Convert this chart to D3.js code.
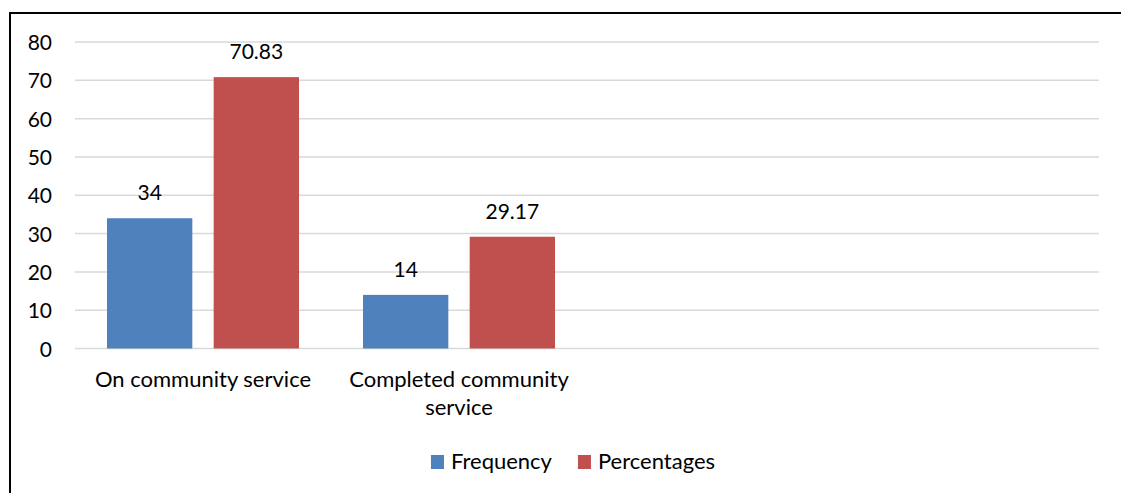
<!DOCTYPE html>
<html>
<head>
<meta charset="utf-8">
<script src="https://cdn.jsdelivr.net/npm/d3@7"></script>
<style>
  html, body { margin: 0; padding: 0; background: #fff; }
  svg { display: block; }
  text { font-family: Lato, "Open Sans", sans-serif; fill: #000; }
</style>
</head>
<body>
<svg id="chart" width="1121" height="493"></svg>
<script>
// Category slots (the last two are left empty on the axis)
const categories = ["On community service", "Completed community service", "", ""];
const seriesNames = ["Frequency", "Percentages"];
const frequency = [34, 14];
const percentages = [70.83, 29.17];
const yTicks = [0, 10, 20, 30, 40, 50, 60, 70, 80];
const colors = ["#4F81BD", "#C0504D"];

const seriesValues = [frequency, percentages];

const svg = d3.select("#chart");

// outer chart border (left and top edges visible)
svg.append("rect")
  .attr("x", 10).attr("y", 13)
  .attr("width", 1300).attr("height", 700)
  .attr("fill", "none").attr("stroke", "#000").attr("stroke-width", 2);

const plot = { left: 75, right: 1099, top: 42, bottom: 348.5 };

const y = d3.scaleLinear().domain([0, 80]).range([plot.bottom, plot.top]);
const x0 = d3.scaleBand().domain(d3.range(categories.length)).range([plot.left, plot.right]);
const x1 = d3.scaleBand().domain(d3.range(seriesNames.length))
  .range([0, x0.bandwidth()]).paddingInner(0.2).paddingOuter(0.3);

// horizontal gridlines
svg.append("g").selectAll("line").data(yTicks).join("line")
  .attr("x1", plot.left).attr("x2", plot.right)
  .attr("y1", d => y(d)).attr("y2", d => y(d))
  .attr("stroke", "#d9d9d9").attr("stroke-width", 1.5);

// y axis labels
const yAxis = d3.axisLeft(y).tickValues(yTicks).tickSize(0).tickPadding(0);
const gy = svg.append("g").attr("transform", "translate(52,0)").call(yAxis);
gy.select(".domain").remove();
gy.selectAll("text")
  .attr("font-family", "Lato, 'Open Sans', sans-serif")
  .attr("font-size", 21).attr("fill", "#000")
  .attr("dy", "0.36em");

// bars
const groups = svg.append("g").selectAll("g")
  .data(frequency.map((_, i) => i)).join("g")
  .attr("transform", i => `translate(${x0(i)},0)`);

groups.selectAll("rect")
  .data(i => seriesValues.map((vals, s) => ({ s, v: vals[i] })))
  .join("rect")
  .attr("x", d => x1(d.s))
  .attr("width", x1.bandwidth())
  .attr("y", d => y(d.v))
  .attr("height", d => y(0) - y(d.v))
  .attr("fill", d => colors[d.s]);

// value labels
groups.selectAll("text")
  .data(i => seriesValues.map((vals, s) => ({ s, v: vals[i] })))
  .join("text")
  .attr("x", d => x1(d.s) + x1.bandwidth() / 2)
  .attr("y", d => y(d.v) - 18)
  .attr("text-anchor", "middle")
  .attr("font-size", 21)
  .text(d => d.v);

// category labels, wrapped to the slot width
const xAxisG = svg.append("g");
categories.forEach((label, i) => {
  if (!label) return;
  const cx = x0(i) + x0.bandwidth() / 2;
  const t = xAxisG.append("text")
    .attr("x", cx).attr("y", 387)
    .attr("text-anchor", "middle").attr("font-size", 22);
  const words = label.split(" ");
  let line = [];
  let tspan = t.append("tspan").attr("x", cx).attr("dy", 0);
  words.forEach(w => {
    line.push(w);
    tspan.text(line.join(" "));
    if (tspan.node().getComputedTextLength() > x0.bandwidth() - 16 && line.length > 1) {
      line.pop();
      tspan.text(line.join(" "));
      line = [w];
      tspan = t.append("tspan").attr("x", cx).attr("dy", 28).text(w);
    }
  });
});

// legend, centred beneath the plot
const legend = svg.append("g");
const items = legend.selectAll("g").data(seriesNames).join("g");
items.append("rect")
  .attr("width", 13).attr("height", 14)
  .attr("y", 455)
  .attr("fill", (d, i) => colors[i]);
items.append("text")
  .attr("x", 20).attr("y", 469)
  .attr("font-size", 22)
  .text(d => d);
let cursor = 0;
const offsets = [];
items.each(function () {
  offsets.push(cursor);
  cursor += 20 + d3.select(this).select("text").node().getComputedTextLength() + 26;
});
const legendWidth = cursor - 26;
const legendStart = 573 - legendWidth / 2;
items.attr("transform", (d, i) => `translate(${legendStart + offsets[i]},0)`);
</script>
</body>
</html>
